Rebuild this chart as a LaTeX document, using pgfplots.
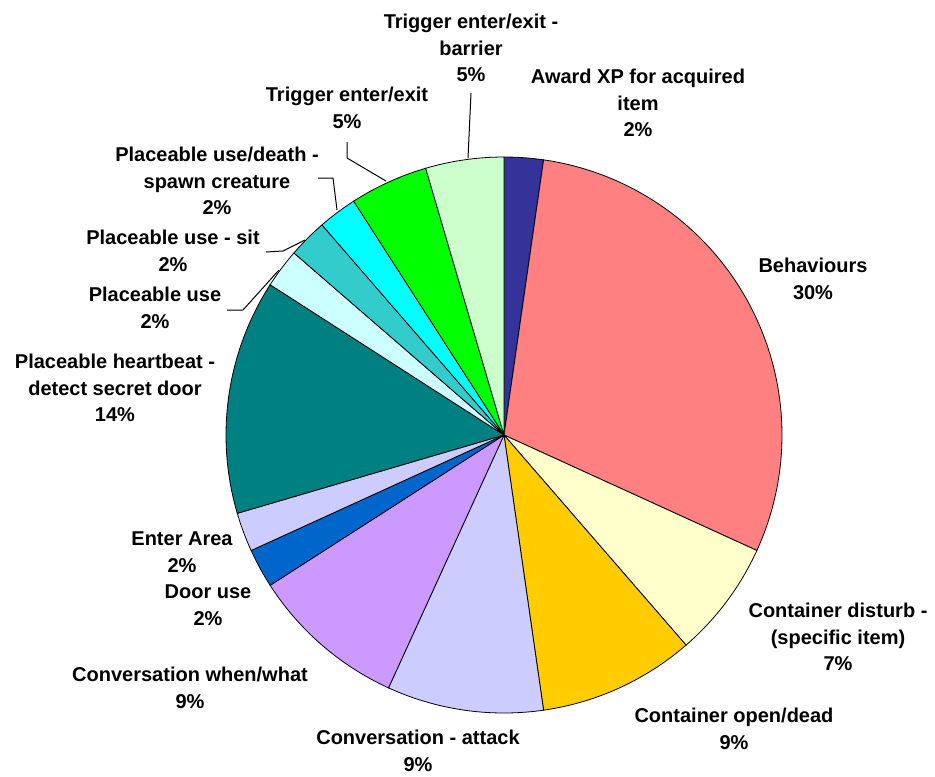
\documentclass[border=0pt]{standalone}
\usepackage{pgfplots}
\usepackage{pgfplotstable}
\pgfplotsset{compat=1.18}
\usepackage{fontspec}
\setmainfont{Liberation Sans}
\definecolor{c1}{HTML}{333399}
\definecolor{c2}{HTML}{FF8080}
\definecolor{c3}{HTML}{FFFFCC}
\definecolor{c4}{HTML}{FFCC00}
\definecolor{c5}{HTML}{CCCCFF}
\definecolor{c6}{HTML}{CC99FF}
\definecolor{c7}{HTML}{0066CC}
\definecolor{c8}{HTML}{CCCCFF}
\definecolor{c9}{HTML}{008080}
\definecolor{c10}{HTML}{CCFFFF}
\definecolor{c11}{HTML}{33CCCC}
\definecolor{c12}{HTML}{00FFFF}
\definecolor{c13}{HTML}{00FF00}
\definecolor{c14}{HTML}{CCFFCC}
% counts (total 44), clockwise from 12 o'clock
\pgfplotstableread{
count color
1  c1
13 c2
3  c3
4  c4
4  c5
4  c6
1  c7
1  c8
6  c9
1  c10
1  c11
1  c12
2  c13
2  c14
}\piedata
\begin{document}
\begin{tikzpicture}[lbl/.style={font=\fontsize{10}{13.25}\selectfont\bfseries, align=center, inner sep=0pt}]
\begin{axis}[
  scale only axis, width=467.5pt, height=388pt,
  xmin=0, xmax=935, ymin=0, ymax=776, y dir=reverse,
  hide axis, clip=false]
\path (axis cs:0,0) rectangle (axis cs:935,776);
\pgfplotstablegetrowsof{\piedata}
\pgfmathtruncatemacro\N{\pgfplotsretval-1}
\gdef\cum{0}
\pgfplotsforeachungrouped \i in {0,...,\N}{
  \pgfplotstablegetelem{\i}{count}\of\piedata \let\cnt\pgfplotsretval
  \pgfplotstablegetelem{\i}{color}\of\piedata \let\col\pgfplotsretval
  \pgfmathsetmacro\aA{90-360*\cum/44}
  \pgfmathsetmacro\cumB{\cum+\cnt}
  \pgfmathsetmacro\aB{90-360*\cumB/44}
  \xdef\cum{\cumB}
  \edef\temp{\noexpand\addplot[draw=black, line width=0.4pt, fill=\col, domain=\aB:\aA, samples=60, smooth] ({504+278*cos(x)},{435-278*sin(x)}) -- (axis cs:504,435) -- cycle;}
  \temp
}
% leader lines
\addplot[black, line width=0.5pt] coordinates {(471,93) (468,158)};
\addplot[black, line width=0.5pt] coordinates {(347,142) (347,158) (386,181)};
\addplot[black, line width=0.5pt] coordinates {(318,178) (333,178) (337,210)};
\addplot[black, line width=0.5pt] coordinates {(266,252) (283,251) (305,240)};
\addplot[black, line width=0.5pt] coordinates {(227,310) (243,310) (279,270)};
% labels
\node[lbl] at (axis cs:471,48) {Trigger enter/exit -\\barrier\\5\%};
\node[lbl] at (axis cs:638,103) {Award XP for acquired\\item\\2\%};
\node[lbl] at (axis cs:347,108) {Trigger enter/exit\\5\%};
\node[lbl] at (axis cs:217,181) {Placeable use/death -\\spawn creature\\2\%};
\node[lbl] at (axis cs:173,251) {Placeable use - sit\\2\%};
\node[lbl] at (axis cs:155,308) {Placeable use\\2\%};
\node[lbl] at (axis cs:115,388) {Placeable heartbeat -\\detect secret door\\14\%};
\node[lbl] at (axis cs:182,552) {Enter Area\\2\%};
\node[lbl] at (axis cs:208,605) {Door use\\2\%};
\node[lbl] at (axis cs:190,688) {Conversation when/what\\9\%};
\node[lbl] at (axis cs:418,751) {Conversation - attack\\9\%};
\node[lbl] at (axis cs:734,729) {Container open/dead\\9\%};
\node[lbl] at (axis cs:838,637) {Container disturb -\\(specific item)\\7\%};
\node[lbl] at (axis cs:813,279) {Behaviours\\30\%};
\end{axis}
\end{tikzpicture}
\end{document}
